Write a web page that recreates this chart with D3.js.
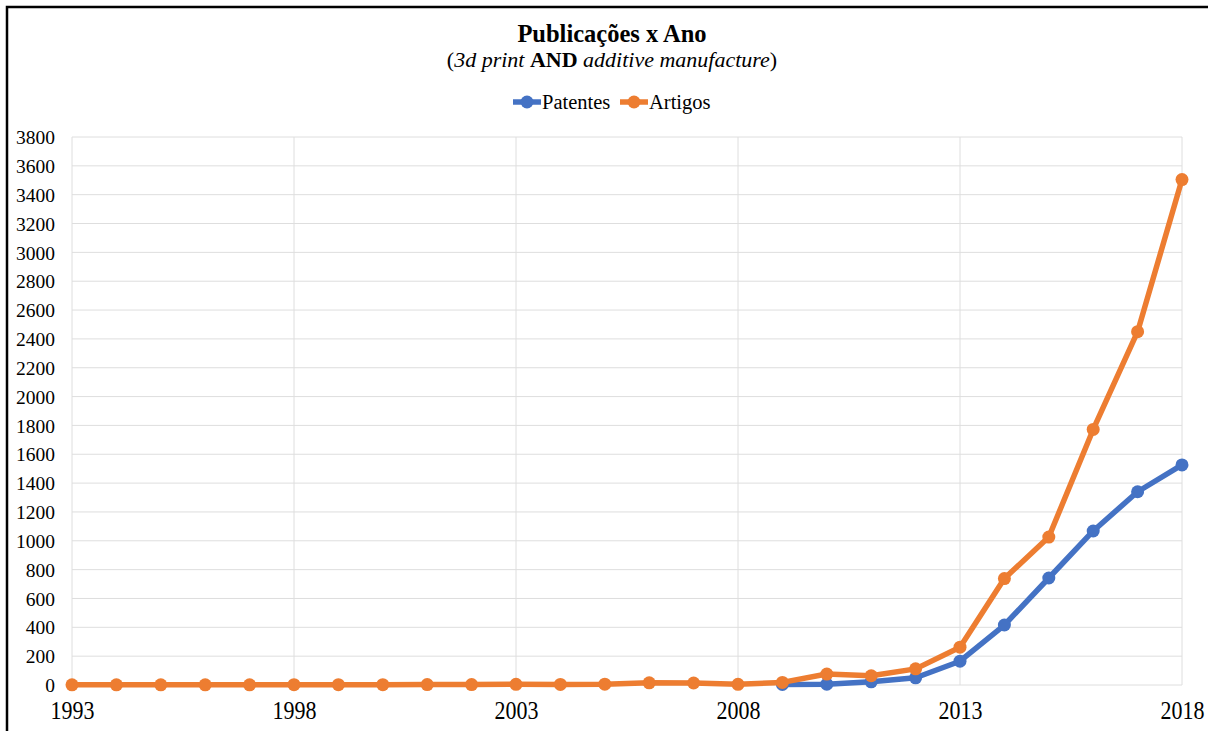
<!DOCTYPE html>
<html>
<head>
<meta charset="utf-8">
<script src="https://cdn.jsdelivr.net/npm/d3@7"></script>
<style>
  html, body { margin: 0; padding: 0; background: #fff; }
  svg { display: block; }
  text { font-family: "Liberation Serif", "Times New Roman", serif; fill: #000; }
</style>
</head>
<body>
<svg id="chart" width="1208" height="731"></svg>
<script>
// Publication counts per year, 1993–2018
const years = d3.range(1993, 2019);
const artigos = [1, 1, 1, 1, 1, 2, 2, 2, 3, 3, 5, 4, 6, 15, 14, 5, 18, 76, 64, 112, 262, 738, 1026, 1772, 2450, 3505];
const patentes = [null, null, null, null, null, null, null, null, null, null, null, null, null, null, null, null, 4, 6, 22, 50, 165, 416, 742, 1068, 1340, 1526];
const yTicks = d3.range(0, 3801, 200);
const xTicks = [1993, 1998, 2003, 2008, 2013, 2018];
const seriesNames = ["Patentes", "Artigos"];
const seriesColors = ["#4472C4", "#ED7D31"];

(function draw() {
  const svg = d3.select("#chart");
  const W = 1208, H = 731;
  const plotLeft = 72, plotRight = 1182, plotTop = 137, plotBottom = 685;

  // outer frame
  svg.append("rect").attr("x", 7).attr("y", 7).attr("width", W + 20).attr("height", H + 20)
    .attr("fill", "#fff").attr("stroke", "#000").attr("stroke-width", 2.5);

  const x = d3.scaleLinear().domain([1993, 2018]).range([plotLeft, plotRight]);
  const y = d3.scaleLinear().domain([0, 3800]).range([plotBottom, plotTop]);

  // horizontal gridlines
  svg.append("g").selectAll("line").data(yTicks).join("line")
    .attr("x1", plotLeft).attr("x2", plotRight)
    .attr("y1", d => y(d)).attr("y2", d => y(d))
    .attr("stroke", "#dedede").attr("stroke-width", 1);

  // vertical gridlines
  svg.append("g").selectAll("line").data(xTicks).join("line")
    .attr("x1", d => x(d)).attr("x2", d => x(d))
    .attr("y1", plotTop).attr("y2", plotBottom)
    .attr("stroke", "#dedede").attr("stroke-width", 1);

  // y axis labels
  const yAxis = svg.append("g").attr("transform", `translate(${plotLeft - 17},0)`)
    .call(d3.axisLeft(y).tickValues(yTicks).tickSize(0).tickPadding(0).tickFormat(d3.format("d")));
  yAxis.select(".domain").remove();
  yAxis.selectAll("text").style("font-size", "19.5px").style("font-family", "Liberation Serif")
    .attr("fill", "#000").attr("dy", "0.34em");

  // x axis labels (slightly tall lettering)
  const xAxis = svg.append("g").attr("transform", `translate(0,${plotBottom + 26})`)
    .call(d3.axisBottom(x).tickValues(xTicks).tickSize(0).tickPadding(0).tickFormat(d3.format("d")));
  xAxis.select(".domain").remove();
  xAxis.selectAll("text").style("font-size", "22px").style("font-family", "Liberation Serif")
    .attr("fill", "#000").attr("y", 0).attr("dy", "0.34em")
    .attr("transform", "scale(1,1.12)");

  // series
  const series = [patentes, artigos];
  const line = d3.line()
    .defined(d => d.v !== null)
    .x(d => x(d.year)).y(d => y(d.v));

  series.forEach((vals, i) => {
    const pts = years.map((yr, k) => ({ year: yr, v: vals[k] }));
    const g = svg.append("g");
    g.append("path").datum(pts).attr("d", line)
      .attr("fill", "none").attr("stroke", seriesColors[i]).attr("stroke-width", 5.5)
      .attr("stroke-linejoin", "round");
    g.selectAll("circle").data(pts.filter(d => d.v !== null)).join("circle")
      .attr("cx", d => x(d.year)).attr("cy", d => y(d.v)).attr("r", 6.5)
      .attr("fill", seriesColors[i]);
  });

  // title
  svg.append("text").attr("x", 612).attr("y", 42).attr("text-anchor", "middle")
    .style("font-size", "24.5px").style("font-weight", "bold").text("Publicações x Ano");

  const sub = svg.append("text").attr("x", 612).attr("y", 67).attr("text-anchor", "middle")
    .style("font-size", "22px");
  sub.append("tspan").text("(");
  sub.append("tspan").style("font-style", "italic").text("3d print ");
  sub.append("tspan").style("font-weight", "bold").text("AND");
  sub.append("tspan").style("font-style", "italic").text(" additive manufacture");
  sub.append("tspan").text(")");

  // legend
  const legendItems = [
    { name: seriesNames[0], color: seriesColors[0], x: 513 },
    { name: seriesNames[1], color: seriesColors[1], x: 620 }
  ];
  const lg = svg.append("g");
  legendItems.forEach(it => {
    lg.append("line").attr("x1", it.x).attr("x2", it.x + 28).attr("y1", 102).attr("y2", 102)
      .attr("stroke", it.color).attr("stroke-width", 5.5);
    lg.append("circle").attr("cx", it.x + 14).attr("cy", 102).attr("r", 6.5).attr("fill", it.color);
    lg.append("text").attr("x", it.x + 29).attr("y", 109).style("font-size", "20.5px").text(it.name);
  });
})();
</script>
</body>
</html>
